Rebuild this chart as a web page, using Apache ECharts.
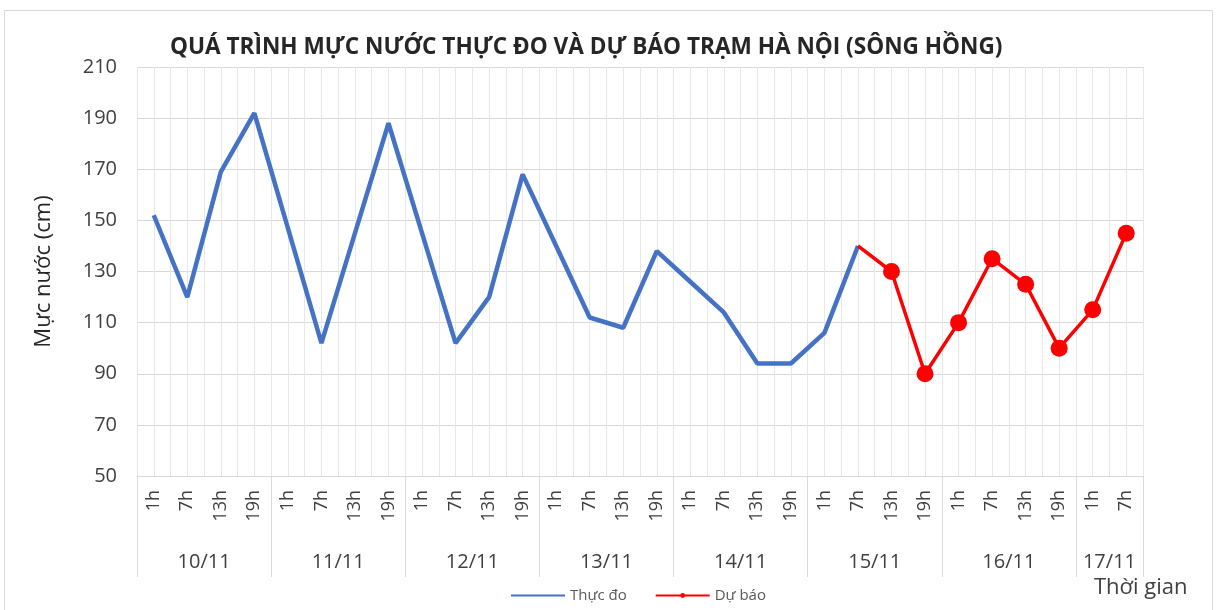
<!DOCTYPE html>
<html>
<head>
<meta charset="utf-8">
<title>Mực nước trạm Hà Nội</title>
<script src="https://cdn.jsdelivr.net/npm/echarts@6/dist/echarts.min.js"></script>
<style>
  html, body { margin: 0; padding: 0; background: #fff; }
  #chart { width: 1217px; height: 610px; }
</style>
</head>
<body>
<div id="chart"></div>
<script>
// ngày và giờ quan trắc
const days = ['10/11', '11/11', '12/11', '13/11', '14/11', '15/11', '16/11', '17/11']
const hoursPerDay = [4, 4, 4, 4, 4, 4, 4, 2]
const hourLabels = ['1h', '7h', '13h', '19h']
const yTicks = { min: 50, max: 210, step: 20 }

// mực nước (cm)
const measured = [152, 120, 169, 192, 147, 102, 145, 188, 145, 102, 120, 168, 140, 112, 108, 138, 126, 114, 94, 94, 106, 140]
const forecast = [140, 130, 90, 110, 135, 125, 100, 115, 145]
const forecastStart = 21 // 7h 15/11

const fontFamily = '"Open Sans", "Noto Sans", sans-serif'

const timeCategories = []
days.forEach((d, i) => {
  hourLabels.slice(0, hoursPerDay[i]).forEach(h => timeCategories.push(h))
})
const n = timeCategories.length

// truc phu chia nua khoang: nhan ngay o giua, vach ngan o bien
const halfSlots = []
for (let i = 0; i <= n * 2; i++) halfSlots.push(String(i))
const dayAtHalf = {}
const dayBorders = new Set([0])
let pos = 0
days.forEach((d, i) => {
  dayAtHalf[pos * 2 + hoursPerDay[i]] = d
  pos += hoursPerDay[i]
  dayBorders.add(pos * 2)
})

const measuredData = timeCategories.map((c, i) => i < measured.length ? measured[i] : null)
const forecastData = timeCategories.map((c, i) => {
  const k = i - forecastStart
  if (k < 0 || k >= forecast.length) return null
  return k === 0 ? { value: forecast[k], symbol: 'none' } : forecast[k]
})

const chart = echarts.init(document.getElementById('chart'))
chart.setOption({
  animation: false,
  backgroundColor: '#fff',
  textStyle: { fontFamily: fontFamily },
  title: {
    text: 'QUÁ TRÌNH MỰC NƯỚC THỰC ĐO VÀ DỰ BÁO TRẠM HÀ NỘI (SÔNG HỒNG)',
    left: 165,
    top: 31,
    textStyle: { fontSize: 22.6, fontWeight: 'bold', color: '#262626', fontFamily: fontFamily }
  },
  graphic: [
    {
      type: 'rect',
      shape: { x: 4.5, y: 10.5, width: 1208, height: 620 },
      style: { fill: 'none', stroke: '#d9d9d9', lineWidth: 1 },
      silent: true
    },
    {
      type: 'text',
      left: 1094,
      top: 577,
      style: { text: 'Thời gian', fontSize: 22, fill: '#404040', fontFamily: fontFamily }
    }
  ],
  legend: {
    left: 505,
    top: 583,
    itemWidth: 54,
    itemHeight: 6,
    itemGap: 28,
    textStyle: { fontSize: 15, color: '#595959', fontFamily: fontFamily },
    data: [{ name: 'Thực đo', itemStyle: { opacity: 0 } }, 'Dự báo']
  },
  grid: {
    left: 137,
    right: 74,
    top: 67,
    bottom: 134,
    outerBoundsMode: 'none'
  },
  xAxis: [
    {
      type: 'category',
      position: 'bottom',
      data: timeCategories,
      boundaryGap: true,
      axisLine: { lineStyle: { color: '#d9d9d9', width: 1 } },
      axisTick: { show: false },
      axisLabel: { interval: 0, rotate: 90, margin: 14, fontSize: 18, color: '#404040' },
      splitLine: { show: false }
    },
    {
      type: 'category',
      position: 'bottom',
      data: halfSlots,
      boundaryGap: false,
      axisLine: { show: false },
      axisTick: {
        show: true,
        length: 101,
        interval: (idx) => dayBorders.has(idx),
        lineStyle: { color: '#d9d9d9', width: 1 }
      },
      axisLabel: {
        interval: (idx) => dayAtHalf[idx] !== undefined,
        formatter: (v) => dayAtHalf[v] || '',
        margin: 76,
        fontSize: 20,
        color: '#404040'
      },
      splitLine: { show: true, interval: 0, lineStyle: { color: '#e7e7e7', width: 1 } }
    }
  ],
  yAxis: {
    type: 'value',
    min: yTicks.min,
    max: yTicks.max,
    interval: yTicks.step,
    name: 'Mực nước (cm)',
    nameLocation: 'middle',
    nameRotate: 90,
    nameGap: 82,
    nameTextStyle: { fontSize: 22, color: '#262626' },
    axisLine: { show: false },
    axisTick: { show: false },
    axisLabel: { margin: 20, fontSize: 20, color: '#404040' },
    splitLine: { lineStyle: { color: '#d9d9d9', width: 1 } }
  },
  series: [
    {
      name: 'Thực đo',
      type: 'line',
      xAxisIndex: 0,
      data: measuredData,
      symbol: 'none',
      lineStyle: { color: '#4472C4', width: 4.5 },
      itemStyle: { color: '#4472C4' },
      z: 3
    },
    {
      name: 'Dự báo',
      type: 'line',
      xAxisIndex: 0,
      data: forecastData,
      symbol: 'circle',
      symbolSize: 17,
      showSymbol: true,
      lineStyle: { color: '#FF0000', width: 3.5 },
      itemStyle: { color: '#FF0000' },
      z: 4
    }
  ]
})
</script>
</body>
</html>
